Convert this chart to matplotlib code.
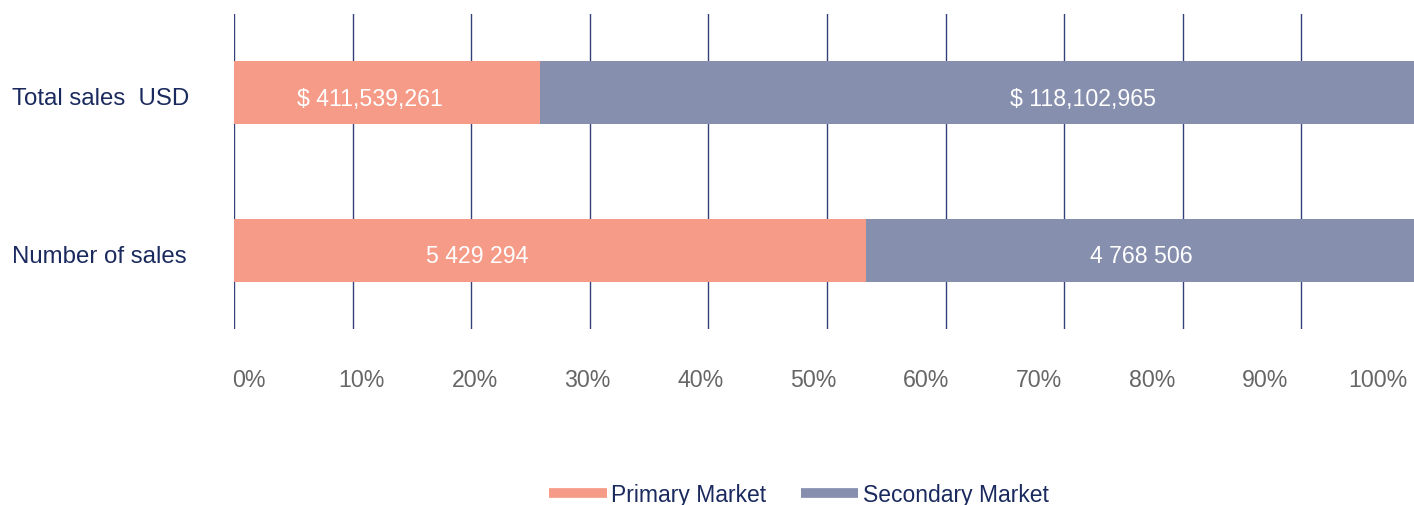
import matplotlib.pyplot as plt
from matplotlib.lines import Line2D

plt.rcParams['font.family'] = ['Liberation Sans', 'DejaVu Sans']

categories = ['Total sales  USD', 'Number of sales']
primary_pct = [25.8, 53.3]
secondary_pct = [74.2, 46.7]
primary_labels = ['$ 411,539,261', '5 429 294']
secondary_labels = ['$ 118,102,965', '4 768 506']
tick_labels = ['0%', '10%', '20%', '30%', '40%', '50%', '60%', '70%', '80%', '90%', '100%']

primary_color = '#f59b87'
secondary_color = '#868fae'
navy = '#1b2a5e'
grid_color = '#34407a'

# where the value texts sit inside the bars (in % of the axis)
primary_text_x = [11.5, 20.5]
secondary_text_x = [71.6, 76.5]
text_drop = 0.035

fig = plt.figure(figsize=(14.14, 5.06), dpi=100)
ax = fig.add_axes([234 / 1414, 1 - 330 / 506, 1 - 234 / 1414, 315 / 506])

y = list(range(len(categories)))
ax.barh(y, primary_pct, height=0.40, color=primary_color, zorder=2)
ax.barh(y, secondary_pct, left=primary_pct, height=0.40, color=secondary_color, zorder=2)

for i in y:
    ax.text(primary_text_x[i], i + text_drop, primary_labels[i], color='white', fontsize=16.7,
            ha='center', va='center', zorder=3)
    ax.text(secondary_text_x[i], i + text_drop, secondary_labels[i], color='white', fontsize=16.7,
            ha='center', va='center', zorder=3)
    ax.text(-222 / 1180, i + text_drop, categories[i], color=navy, fontsize=17.3,
            ha='left', va='center', transform=ax.get_yaxis_transform())

ax.set_xlim(0, 99.5)
ax.set_ylim(1.5, -0.5)
ax.set_xticks(range(0, 100, 10))
ax.set_xticklabels([])
ax.tick_params(axis='x', length=0)
ax.set_yticks([])
ax.grid(axis='x', color=grid_color, linewidth=1, zorder=0)
for s in ax.spines.values():
    s.set_visible(False)

# percentage labels sit on their own, slightly narrower scale
tx = ax.twiny()
tx.set_xlim(-1.32, 103.2)
tx.xaxis.set_ticks_position('bottom')
tx.set_xticks(range(0, 101, 10))
tx.set_xticklabels(tick_labels, fontsize=16.7, color='#666666')
tx.tick_params(axis='x', length=0, pad=28)
for s in tx.spines.values():
    s.set_visible(False)

handles = [Line2D([0], [0], color=primary_color, lw=7, solid_capstyle='butt'),
           Line2D([0], [0], color=secondary_color, lw=7, solid_capstyle='butt')]
leg = fig.legend(handles, ['Primary Market', 'Secondary Market'], loc='center',
                 bbox_to_anchor=(0.565, 0.02), ncol=2, frameon=False, fontsize=16.5,
                 handlelength=2.5, handletextpad=0.2, columnspacing=1.5)
for t in leg.get_texts():
    t.set_color(navy)

fig.savefig('out.png', dpi=100)
